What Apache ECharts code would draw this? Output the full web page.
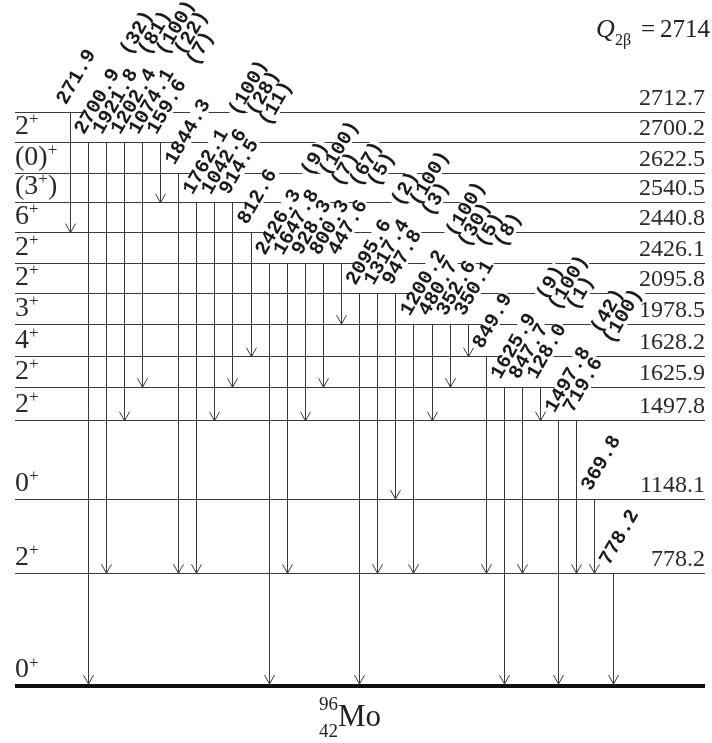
<!DOCTYPE html>
<html><head><meta charset="utf-8">
<script src="https://cdn.jsdelivr.net/npm/echarts@6/dist/echarts.min.js"></script>
<style>html,body{margin:0;padding:0;background:#fff}#c{width:712px;height:743px}</style>
</head><body><div id="c"></div>
<script>
// ---- Levels of 96Mo (top to bottom) ----
const levelEnergy = [2712.7, 2700.2, 2622.5, 2540.5, 2440.8, 2426.1, 2095.8, 1978.5, 1628.2, 1625.9, 1497.8, 1148.1, 778.2, 0];
const levelSpin   = ['', '2^+', '(0)^+', '(3^+)', '6^+', '2^+', '2^+', '3^+', '4^+', '2^+', '2^+', '0^+', '2^+', '0^+'];
// schematic vertical position of each level in the drawing (not energy-proportional)
const levelHeight = [18.61, 17.64, 16.65, 15.69, 14.72, 13.72, 12.75, 11.75, 10.69, 9.70, 8.61, 6.07, 3.66, 0];

// ---- Gamma transitions (left to right) ----
const gammaEnergy = [271.9, 2700.9, 1921.8, 1202.4, 1074.1, 159.6, 1844.3, 1762.1, 1042.6, 914.5, 812.6,
  2426.3, 1647.8, 928.3, 800.3, 447.6, 2095.6, 1317.4, 947.8, 1200.2, 480.7, 352.6, 350.1, 849.9,
  1625.9, 847.7, 128.0, 1497.8, 719.6, 369.8, 778.2];
const gammaIntensity = ['', '32', '81', '100', '22', '7', '', '100', '28', '11', '',
  '9', '100', '7', '67', '5', '2', '100', '3', '100', '30', '5', '8', '',
  '9', '100', '1', '42', '100', '', ''];
const gammaFrom = [2712.7, 2700.2, 2700.2, 2700.2, 2700.2, 2700.2, 2622.5, 2540.5, 2540.5, 2540.5, 2440.8,
  2426.1, 2426.1, 2426.1, 2426.1, 2426.1, 2095.8, 2095.8, 2095.8, 1978.5, 1978.5, 1978.5, 1978.5, 1628.2,
  1625.9, 1625.9, 1625.9, 1497.8, 1497.8, 1148.1, 778.2];
const gammaTo = [2440.8, 0, 778.2, 1497.8, 1625.9, 2540.5, 778.2, 778.2, 1497.8, 1625.9, 1628.2,
  0, 778.2, 1497.8, 1625.9, 1978.5, 0, 778.2, 1148.1, 778.2, 1497.8, 1625.9, 1628.2, 778.2,
  0, 778.2, 1497.8, 0, 778.2, 778.2, 0];

const qValue = '2714';
const nucleusA = '96', nucleusZ = '42', nucleusSymbol = 'Mo';

const X_MIN = -3.04, X_MAX = 35.08;
const hOf = e => levelHeight[levelEnergy.indexOf(e)];
const LINE = '#3a3a3a';
const ANG = Math.PI / 3;
const MONO = 'bold 20px "Liberation Mono"';
const ADV = 12;

function spinRich(s) {
  return '{n|' + s.replace(/\^([+-])/g, '}{p|$1}{n|') + '}';
}
function crisp(v) { return Math.round(v - 0.5) + 0.5; }

const chart = echarts.init(document.getElementById('c'), null, {renderer: 'canvas'});
chart.setOption({
  animation: false,
  backgroundColor: '#fff',
  grid: {left: 15, right: 7, top: 70, bottom: 57},
  xAxis: {type: 'value', min: X_MIN, max: X_MAX, show: false},
  yAxis: {type: 'value', min: 0, max: 20, show: false},
  graphic: [
    {type: 'text', x: 596, y: 30, style: {text: 'Q', font: 'italic 26px "Liberation Serif"', fill: '#222', verticalAlign: 'middle'}},
    {type: 'text', x: 615, y: 41, style: {text: '2β', font: '16px "Liberation Serif"', fill: '#222', verticalAlign: 'middle'}},
    {type: 'text', x: 710, y: 30, style: {text: '=\u2009' + qValue, font: '25px "Liberation Serif"', fill: '#222', align: 'right', verticalAlign: 'middle'}},
    {type: 'text', x: 338, y: 705, style: {text: nucleusA, font: '19px "Liberation Serif"', fill: '#222', align: 'right', verticalAlign: 'middle'}},
    {type: 'text', x: 338, y: 732, style: {text: nucleusZ, font: '19px "Liberation Serif"', fill: '#222', align: 'right', verticalAlign: 'middle'}},
    {type: 'text', x: 338, y: 718, style: {text: nucleusSymbol, font: '31px "Liberation Serif"', fill: '#222', align: 'left', verticalAlign: 'middle'}}
  ],
  series: [
    { // level lines + labels
      type: 'custom', z: 1, silent: true,
      data: levelHeight.map((h, i) => [i, h]),
      renderItem: (params, api) => {
        const i = api.value(0), h = api.value(1);
        const p0 = api.coord([X_MIN, h]), p1 = api.coord([X_MAX, h]);
        const ground = levelEnergy[i] === 0;
        const y = ground ? p0[1] : crisp(p0[1]);
        const ch = [{type: 'line', shape: {x1: p0[0], y1: y, x2: p1[0], y2: y},
          style: {stroke: ground ? '#111' : LINE, lineWidth: ground ? 4 : 1}}];
        if (!ground) {
          ch.push({type: 'text', z2: 5, style: {text: levelEnergy[i].toFixed(1), x: p1[0], y: y - 14,
            font: '24px "Liberation Serif"', fill: '#2a2a2a', align: 'right', verticalAlign: 'middle'}});
        }
        if (levelSpin[i]) {
          ch.push({type: 'text', style: {text: spinRich(levelSpin[i]), x: p0[0], y: y - 1,
            align: 'left', verticalAlign: 'bottom', fill: '#2a2a2a',
            rich: {n: {font: '28px "Liberation Serif"', fill: '#2a2a2a', lineHeight: 30},
                   p: {font: '17px "Liberation Serif"', fill: '#2a2a2a', lineHeight: 17, verticalAlign: 'top'}}}});
        }
        return {type: 'group', children: ch};
      }
    },
    { // gamma labels
      type: 'custom', z: 2, silent: true,
      data: gammaEnergy.map((e, i) => [i, hOf(gammaFrom[i])]),
      renderItem: (params, api) => {
        const i = api.value(0), h = api.value(1);
        const p = api.coord([i, h]);
        const ax = p[0] - 9, ay = p[1] - 9;
        const label = gammaEnergy[i].toFixed(1);
        const D = (label.length + 1.6) * ADV;
        const base = {x: 0, y: 0, font: MONO, fill: '#1a1a1a', align: 'left', verticalAlign: 'middle',
          backgroundColor: '#fff', lineHeight: 16, padding: [0, 1]};
        const ch = [{type: 'text', x: ax, y: ay, rotation: ANG,
          style: Object.assign({text: label}, base)}];
        if (gammaIntensity[i]) {
          ch.push({type: 'text', x: ax + D * Math.cos(ANG), y: ay - D * Math.sin(ANG), rotation: ANG,
            style: Object.assign({text: '(' + gammaIntensity[i] + ')'}, base)});
        }
        return {type: 'group', children: ch};
      }
    },
    { // gamma arrows
      type: 'custom', z: 3, silent: true,
      data: gammaEnergy.map((e, i) => [i, hOf(gammaFrom[i]), hOf(gammaTo[i])]),
      renderItem: (params, api) => {
        const i = api.value(0);
        const a = api.coord([i, api.value(1)]), b = api.coord([i, api.value(2)]);
        const x = crisp(a[0]);
        const yb = gammaTo[i] === 0 ? b[1] - 2 : b[1];
        return {type: 'group', children: [
          {type: 'line', shape: {x1: x, y1: a[1], x2: x, y2: yb}, style: {stroke: LINE, lineWidth: 1}},
          {type: 'polyline', shape: {points: [[x - 5, yb - 9], [x, yb], [x + 5, yb - 9]]},
            style: {stroke: LINE, lineWidth: 1, fill: null}}
        ]};
      }
    }
  ]
});
</script></body></html>
